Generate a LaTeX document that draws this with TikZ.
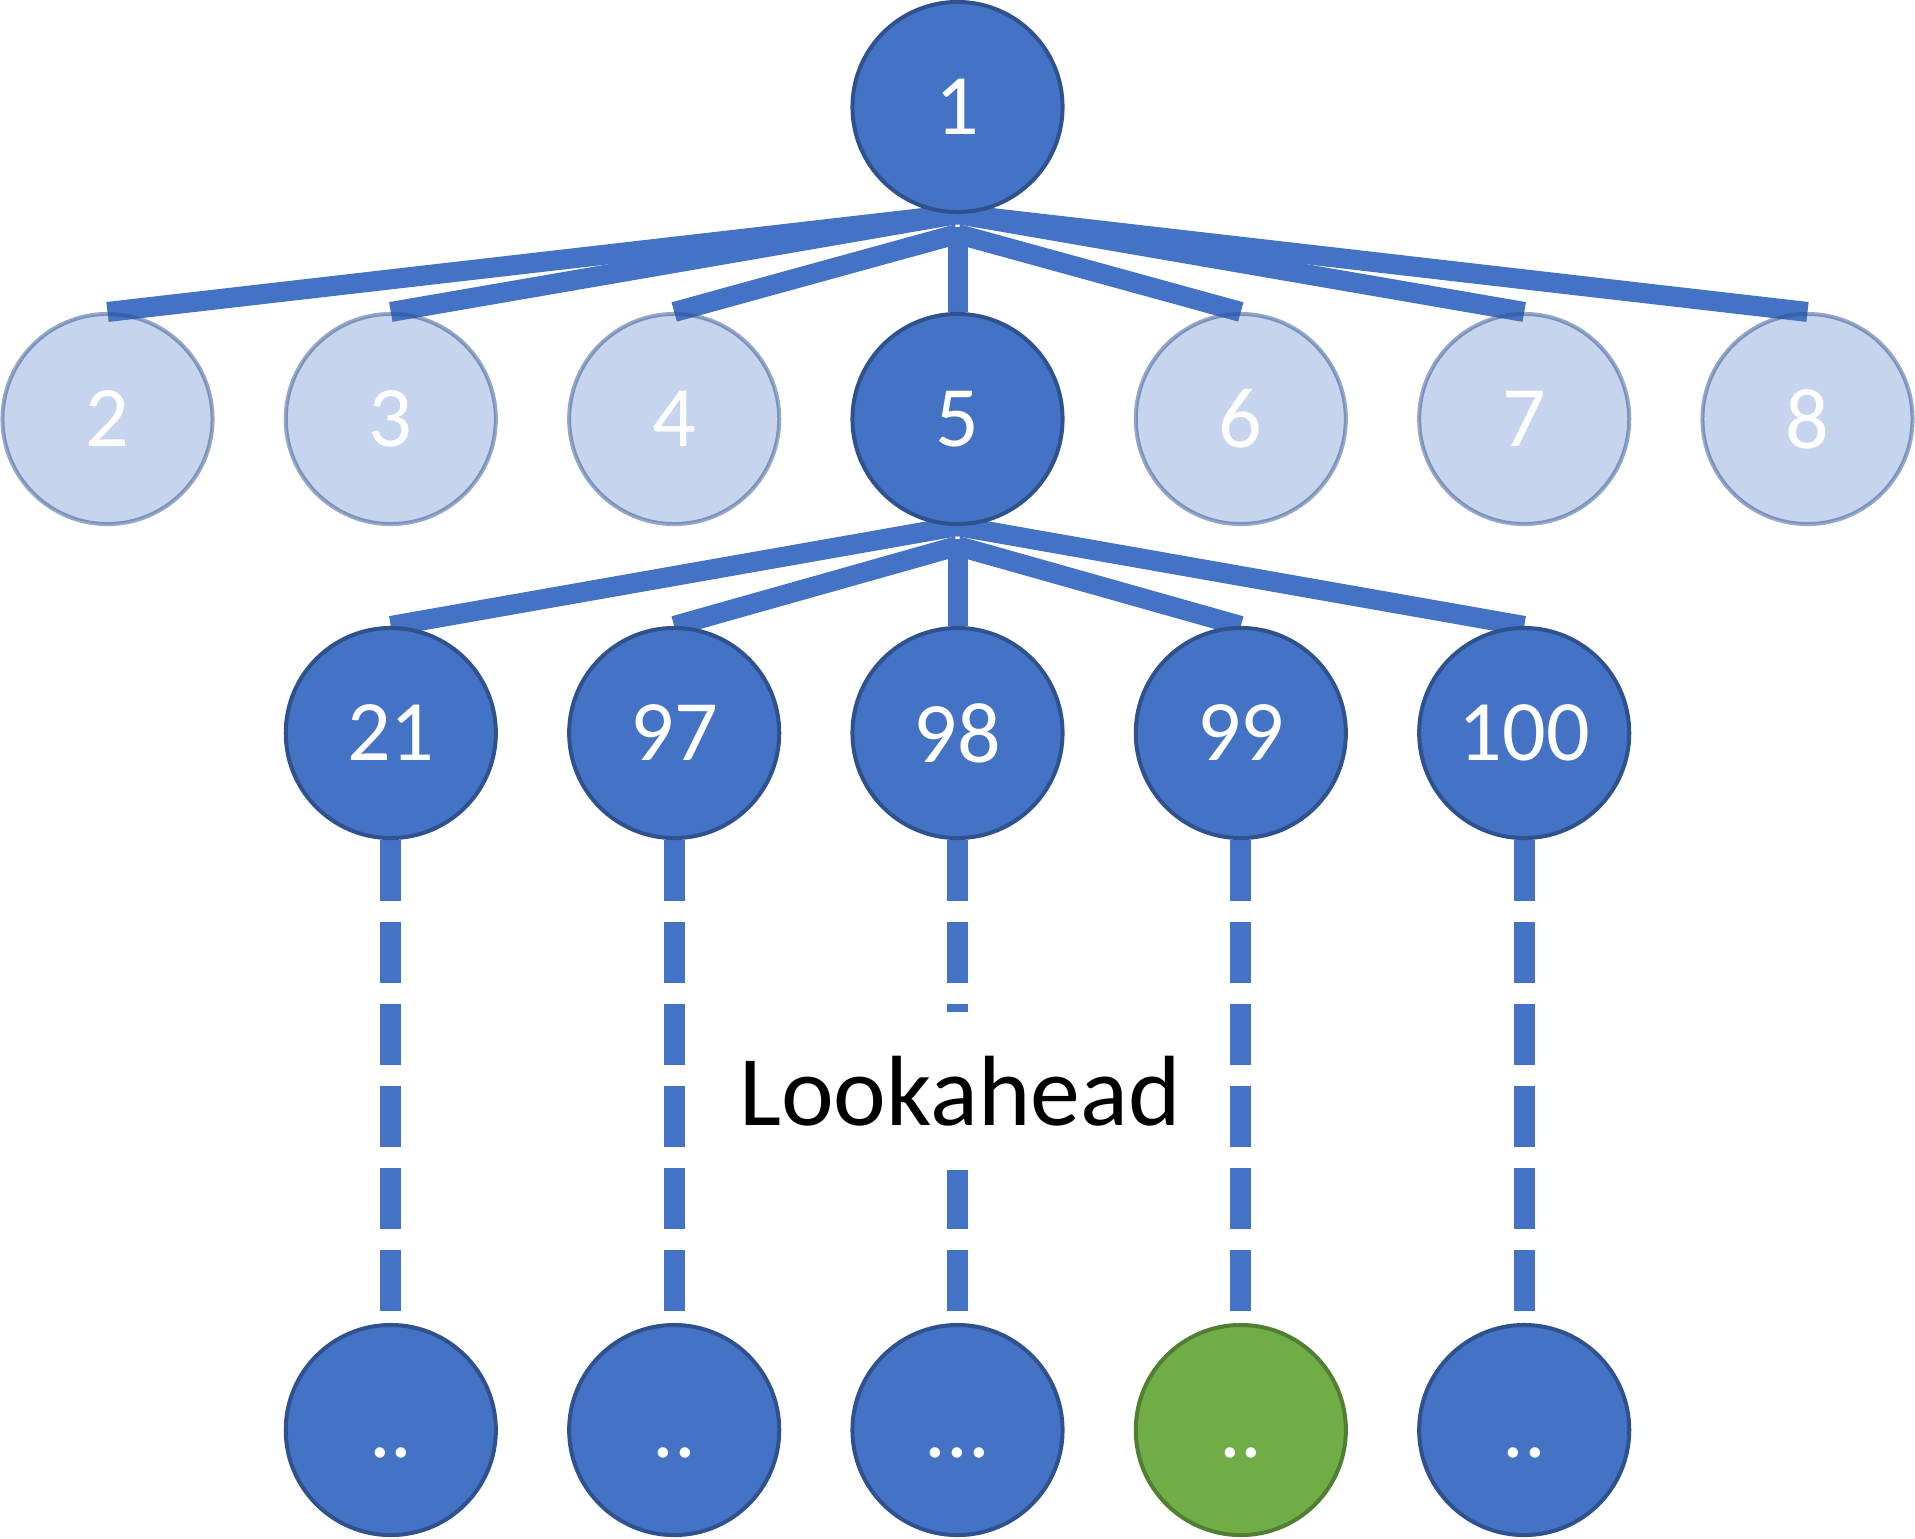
\documentclass[tikz,border=0pt]{standalone}
\usepackage{fontspec}
\setmainfont{Carlito}
\usetikzlibrary{backgrounds}
\definecolor{blueF}{HTML}{4472C4}
\definecolor{blueD}{HTML}{2F528F}
\definecolor{greenF}{HTML}{70AD47}
\definecolor{greenD}{HTML}{507E32}
\begin{document}
\begin{tikzpicture}[x=0.01cm,y=-0.01cm,
  nd/.style={circle,minimum size=2.1cm,inner sep=0pt,line width=0.04cm,text=white,font=\fontsize{24.5}{29}\selectfont},
  dark/.style={nd,fill=blueF,draw=blueD},
  light/.style={nd,fill=blueF,fill opacity=0.3,draw=blueD,draw opacity=0.5,text opacity=1},
  leafg/.style={nd,fill=greenF,draw=greenD},
  edge/.style={draw=blueF,line width=0.2cm},
  dashedge/.style={draw=blueF,line width=0.21cm,dash pattern=on 0.61cm off 0.21cm}
]
\useasboundingbox (0,0) rectangle (1915,1538);
% root
\node[dark] (n1) at (957.5,107) {1};
% row 2
\node[light] (n2) at (107.5,419) {2};
\node[light] (n3) at (390.8,419) {3};
\node[light] (n4) at (674.2,419) {4};
\node[dark]  (n5) at (957.5,419) {5};
\node[light] (n6) at (1240.8,419) {6};
\node[light] (n7) at (1524.2,419) {7};
\node[light] (n8) at (1807.5,419) {8};
% row 3
\node[dark] (n21)  at (390.8,733) {21};
\node[dark] (n97)  at (674.2,733) {97};
\node[dark] (n98)  at (957.5,733) {98};
\node[dark] (n99)  at (1240.8,733) {99};
\node[dark] (n100) at (1524.2,733) {100};
% row 4
\node[dark]  (l21)  at (390.8,1430) {\vphantom{0}..};
\node[dark]  (l97)  at (674.2,1430) {\vphantom{0}..};
\node[dark]  (l98)  at (957.5,1430) {\vphantom{0}...};
\node[leafg] (l99)  at (1240.8,1430) {\vphantom{0}..};
\node[dark]  (l100) at (1524.2,1430) {\vphantom{0}..};
% label
\node[fill=white,inner xsep=0.1cm,minimum height=1.57cm,font=\fontsize{28.4}{34}\selectfont] (look) at (960,1091) {Lookahead};
% junction points
\coordinate (c1v) at (957.5,227);
\coordinate (c1d) at (957.5,234);
\coordinate (c5v) at (957.5,539);
\coordinate (c5d) at (957.5,546);
\begin{scope}[on background layer]
\draw[edge] (n1.south) -- (n2.north);
\draw[edge] (n1.south) -- (n3.north);
\draw[edge] (c1d) -- (n4.north);
\draw[edge] (c1v) -- (n5.north);
\draw[edge] (c1d) -- (n6.north);
\draw[edge] (n1.south) -- (n7.north);
\draw[edge] (n1.south) -- (n8.north);
\draw[edge] (n5.south) -- (n21.north);
\draw[edge] (c5d) -- (n97.north);
\draw[edge] (c5v) -- (n98.north);
\draw[edge] (c5d) -- (n99.north);
\draw[edge] (n5.south) -- (n100.north);
\draw[dashedge] (n21.south) -- (l21.north);
\draw[dashedge] (n97.south) -- (l97.north);
\draw[dashedge] (n98.south) -- (l98.north);
\draw[dashedge] (n99.south) -- (l99.north);
\draw[dashedge] (n100.south) -- (l100.north);
\end{scope}
\end{tikzpicture}
\end{document}
